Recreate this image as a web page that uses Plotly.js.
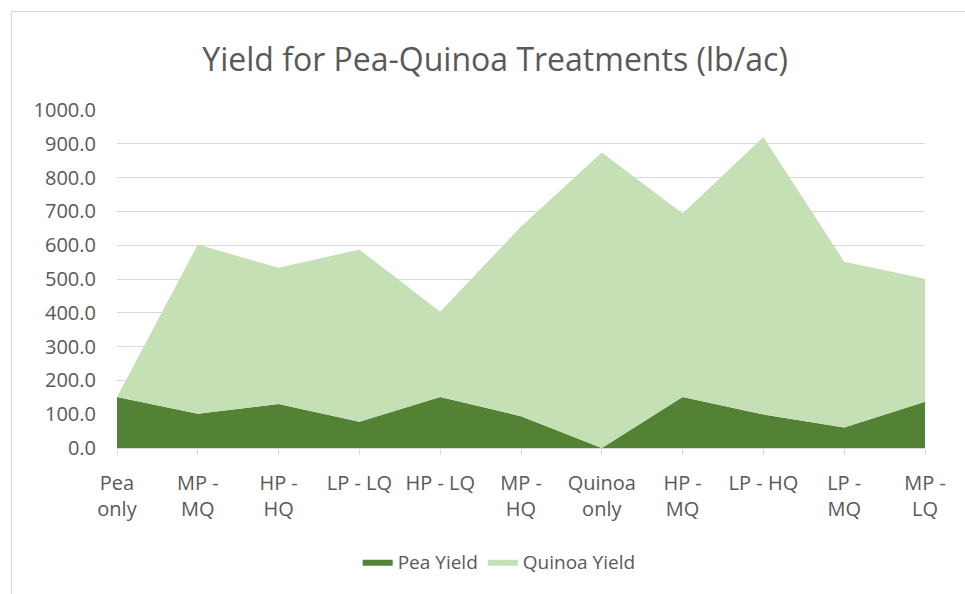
<!DOCTYPE html>
<html>
<head>
<meta charset="utf-8">
<script src="https://cdn.plot.ly/plotly-3.0.1.min.js"></script>
<style>
html,body{margin:0;padding:0;background:#fff;overflow:hidden;}
#frame{position:absolute;left:11px;top:11px;width:1000px;height:700px;border:1px solid #d9d9d9;box-sizing:border-box;}
#chart{position:absolute;left:0;top:0;width:965px;height:594px;}
</style>
</head>
<body>
<div id="frame"></div>
<div id="chart"></div>
<script>
const categories = ["Pea only","MP - MQ","HP - HQ","LP - LQ","HP - LQ","MP - HQ","Quinoa only","HP - MQ","LP - HQ","LP - MQ","MP - LQ"];
const tickLabels = ["Pea<br>only","MP -<br>MQ","HP -<br>HQ","LP - LQ","HP - LQ","MP -<br>HQ","Quinoa<br>only","HP -<br>MQ","LP - HQ","LP -<br>MQ","MP -<br>LQ"];
const peaYield = [151, 101, 130, 78, 151, 94, 0, 151, 99, 61, 137];
const quinoaYield = [0, 501, 403, 509, 252, 561, 874, 543, 821, 490, 364];

const font = "'Open Sans', Lato, sans-serif";
const txt = "#595959";

const traces = [
  {x: categories, y: peaYield, name: "Pea Yield", type: "scatter", mode: "lines",
   stackgroup: "one", line: {width: 0, color: "#548235"}, fillcolor: "#548235"},
  {x: categories, y: quinoaYield, name: "Quinoa Yield", type: "scatter", mode: "lines",
   stackgroup: "one", line: {width: 0, color: "#C5E0B4"}, fillcolor: "#C5E0B4"}
];

const layout = {
  width: 965, height: 594,
  paper_bgcolor: "rgba(0,0,0,0)", plot_bgcolor: "rgba(0,0,0,0)",
  margin: {l: 117, r: 40, t: 110, b: 146, autoexpand: false},
  font: {family: font, color: txt, size: 18},
  title: {text: "Yield for Pea-Quinoa Treatments (lb/ac)", font: {family: font, size: 32, color: txt},
          x: 0.513, xref: "container", xanchor: "center", y: 0.9, yref: "container", yanchor: "middle"},
  xaxis: {type: "category", range: [0, 10], tickmode: "array", tickvals: categories, ticktext: tickLabels,
          ticks: "outside", ticklen: 6, tickcolor: "#d9d9d9", showline: true, linecolor: "#d9d9d9", linewidth: 1,
          showgrid: false, tickfont: {size: 20, color: txt}, tickangle: 0, ticklabelstandoff: 11,
          automargin: false, fixedrange: true},
  yaxis: {range: [0, 1000], dtick: 100, tickformat: ".1f", showgrid: true, gridcolor: "#d9d9d9", gridwidth: 1,
          zeroline: false, showline: false, ticks: "", ticklen: 0, tickfont: {size: 20, color: txt},
          ticklabelstandoff: 20, automargin: false, fixedrange: true},
  legend: {orientation: "h", x: 0.473, xanchor: "center", y: -0.337, yanchor: "middle",
           font: {size: 19, color: txt}, traceorder: "normal"},
  showlegend: true
};

Plotly.newPlot("chart", traces, layout, {displayModeBar: false, staticPlot: true});
</script>
</body>
</html>
